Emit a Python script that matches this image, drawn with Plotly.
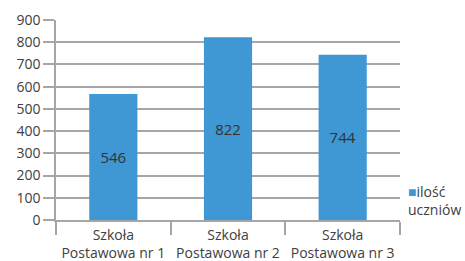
import plotly.graph_objects as go

categories = ["Szkoła<br>Postawowa nr 1", "Szkoła<br>Postawowa nr 2", "Szkoła<br>Postawowa nr 3"]
values = [567, 822, 744]
labels = ["546", "822", "744"]
series_name = "ilość"
legend_second_line = "uczniów"
y_ticks = [0, 100, 200, 300, 400, 500, 600, 700, 800, 900]

BLUE = "#3f97d3"
GRID = "#a6a6a6"
FONT = "Open Sans"
TXT = "#404040"

fig = go.Figure()
fig.add_trace(go.Bar(
    x=categories, y=values, name=series_name,
    marker=dict(color=BLUE, line=dict(width=0)),
    text=labels, textposition="inside", insidetextanchor="middle",
    textfont=dict(family=FONT, size=15, color="#333333"),
    showlegend=False,
))

fig.update_layout(
    width=465, height=261,
    margin=dict(l=56, r=65, t=20, b=41, autoexpand=False),
    paper_bgcolor="white", plot_bgcolor="white",
    bargap=0.58,
    font=dict(family=FONT, size=14, color=TXT),
    annotations=[dict(
        text=f"<span style='color:{BLUE}'>■</span>{series_name}<br>{legend_second_line}",
        x=1.018, y=0.1, xref="paper", yref="paper", align="left",
        xanchor="left", yanchor="middle", showarrow=False,
        font=dict(family=FONT, size=14, color=TXT))],
)
fig.update_xaxes(
    showgrid=False, showline=True, linecolor=GRID, linewidth=1.5,
    ticks="outside", tickson="boundaries", ticklen=13, tickcolor=GRID, tickwidth=1.5,
    ticklabelstandoff=1,
    tickfont=dict(family=FONT, size=14, color=TXT),
)
fig.update_yaxes(
    range=[0, 900], tickvals=y_ticks, showgrid=True, gridcolor=GRID, gridwidth=1.5,
    showline=True, linecolor=GRID, linewidth=1.5,
    ticks="outside", ticklen=11, tickcolor=GRID, tickwidth=1.5,
    tickfont=dict(family=FONT, size=14, color=TXT), zeroline=False,
)
fig.write_html("out.html", config={"displayModeBar": False},
               post_script="document.body.style.margin='0';document.body.style.overflow='hidden';")
